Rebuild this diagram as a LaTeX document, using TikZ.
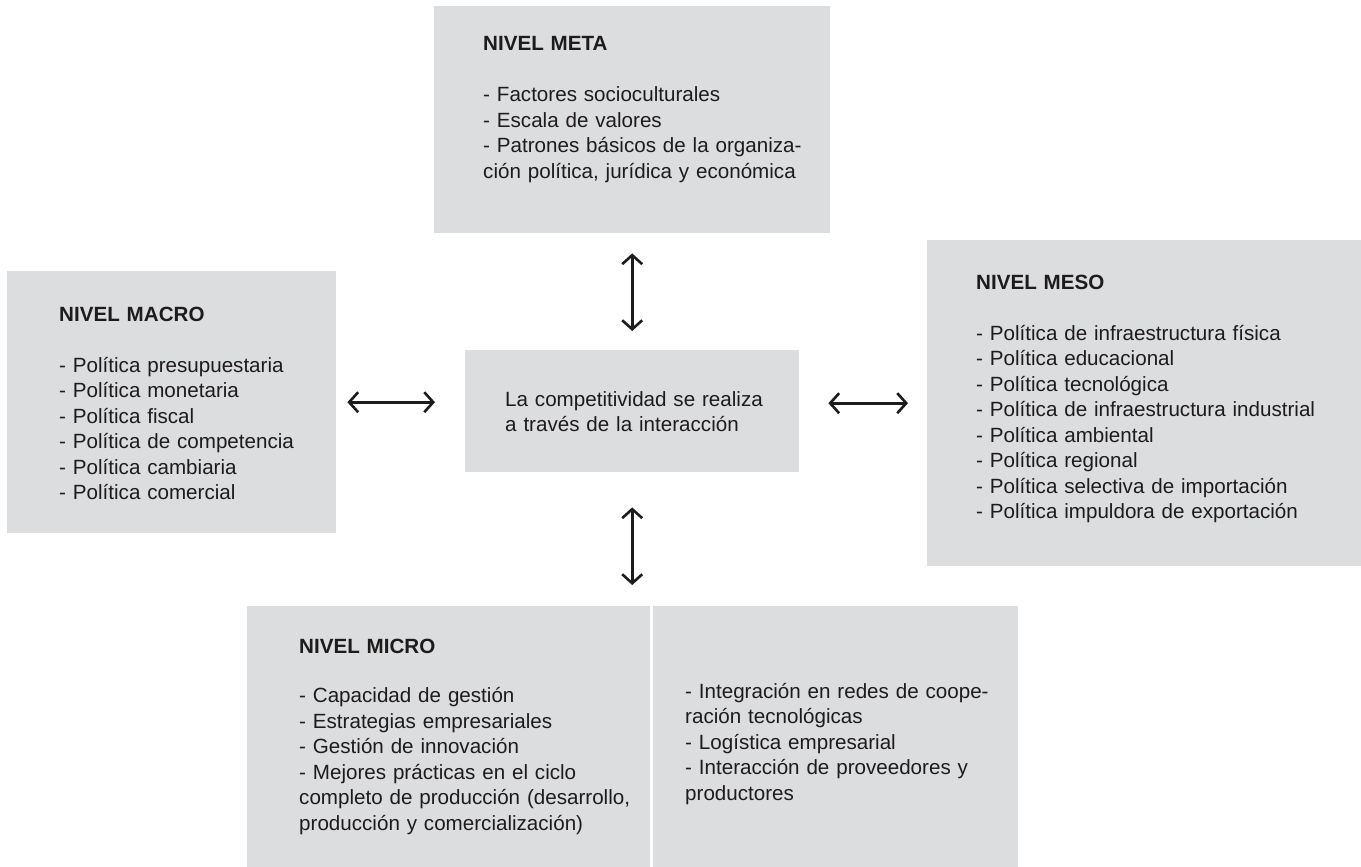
\documentclass[tikz,border=0pt]{standalone}
\usepackage{fontspec}
\setmainfont{Liberation Sans}
\usepackage{xcolor}
\usetikzlibrary{arrows.meta}
\definecolor{boxgray}{RGB}{220,221,223}
\definecolor{inkgray}{RGB}{30,27,28}

\begin{document}
\begin{tikzpicture}[x=1pt,y=-1pt,
  box/.style={fill=boxgray, inner sep=0pt, anchor=north west},
  txt/.style={anchor=base west, inner sep=0pt, text width=400pt, align=left, text=inkgray,
    font=\fontsize{20.6pt}{25.5pt}\selectfont},
  arr/.style={{Straight Barb[length=9pt,width=20pt]}-{Straight Barb[length=9pt,width=20pt]},
    line width=2.6pt, draw=inkgray}]
\useasboundingbox (0,0) rectangle (1361,867);

\node[box, minimum width=396pt, minimum height=227pt] (meta) at (434,6) {};
\node[box, minimum width=329pt, minimum height=262pt] (macro) at (7,271) {};
\node[box, minimum width=434pt, minimum height=326pt] (meso) at (927,240) {};
\node[box, minimum width=334pt, minimum height=122pt] (center) at (465,350) {};
\node[box, minimum width=403pt, minimum height=261pt] (microL) at (247,606) {};
\node[box, minimum width=365pt, minimum height=261pt] (microR) at (653,606) {};

\node[txt] (metatxt) at ([xshift=49pt,yshift=-45pt]meta.north west) {%
\textbf{NIVEL META}\\[25.5pt]
- Factores socioculturales\\
- Escala de valores\\
- Patrones básicos de la organiza-\\
ción política, jurídica y económica};

\node[txt] (macrotxt) at ([xshift=52pt,yshift=-50pt]macro.north west) {%
\textbf{NIVEL MACRO}\\[25.5pt]
- Política presupuestaria\\
- Política monetaria\\
- Política fiscal\\
- Política de competencia\\
- Política cambiaria\\
- Política comercial};

\node[txt] (mesotxt) at ([xshift=49pt,yshift=-49pt]meso.north west) {%
\textbf{NIVEL MESO}\\[25.5pt]
- Política de infraestructura física\\
- Política educacional\\
- Política tecnológica\\
- Política de infraestructura industrial\\
- Política ambiental\\
- Política regional\\
- Política selectiva de importación\\
- Política impuldora de exportación};

\node[txt] (centertxt) at ([xshift=40pt,yshift=-56pt]center.north west) {%
La competitividad se realiza\\
a través de la interacción};

\node[txt] (microLtxt) at ([xshift=52pt,yshift=-47pt]microL.north west) {%
\textbf{NIVEL MICRO}\\[24pt]
- Capacidad de gestión\\
- Estrategias empresariales\\
- Gestión de innovación\\
- Mejores prácticas en el ciclo\\
completo de producción (desarrollo,\\
producción y comercialización)};

\node[txt] (microRtxt) at ([xshift=32pt,yshift=-92pt]microR.north west) {%
- Integración en redes de coope-\\
ración tecnológicas\\
- Logística empresarial\\
- Interacción de proveedores y\\
productores};

\draw[arr, shorten <=20pt, shorten >=19pt] (meta.south) -- (center.north);
\draw[arr, shorten <=11pt, shorten >=30pt] (macro.east) -- (macro.east -| center.west);
\draw[arr, shorten <=29pt, shorten >=19pt] (meso.west -| center.east) -- (meso.west);
\draw[arr, shorten <=35pt, shorten >=21pt] (center.south) -- (center.south |- microL.north);
\end{tikzpicture}
\end{document}
